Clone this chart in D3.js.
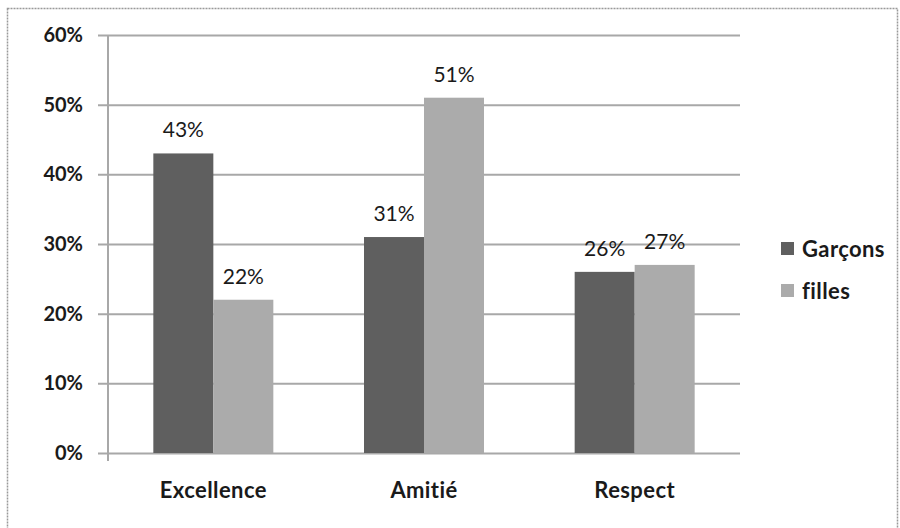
<!DOCTYPE html>
<html>
<head>
<meta charset="utf-8">
<script src="https://cdn.jsdelivr.net/npm/d3@7"></script>
<style>
  body { margin: 0; background: #fff; }
  text { font-family: Lato, "Open Sans", sans-serif; fill: #1a1a1a; }
</style>
</head>
<body>
<svg id="chart" width="900" height="528"></svg>
<script>
const categories = ['Excellence', 'Amitié', 'Respect']
const seriesNames = ['Garçons', 'filles']
const garcons = [0.43, 0.31, 0.26]
const filles = [0.22, 0.51, 0.27]
const yTicks = [0, 0.1, 0.2, 0.3, 0.4, 0.5, 0.6]
const colors = ['#5f5f5f', '#ababab']

const svg = d3.select('#chart')

// frame
svg.append('rect')
  .attr('x', 7.5).attr('y', 8.5)
  .attr('width', 890).attr('height', 530)
  .attr('fill', 'none')
  .attr('stroke', '#999')
  .attr('stroke-width', 1.5)
  .attr('stroke-dasharray', '2,1')

const plotL = 108, plotR = 740, plotT = 35, plotB = 453

const x = d3.scaleBand()
  .domain(categories)
  .range([plotL, plotR])

const inner = d3.scaleBand()
  .domain(seriesNames)
  .range([0, 120])

const y = d3.scaleLinear()
  .domain([0, 0.6])
  .range([plotB, plotT])

// gridlines + y labels
const yAxis = d3.axisLeft(y)
  .tickValues(yTicks)
  .tickFormat(d3.format('.0%'))
  .tickSize(0)
  .tickPadding(25)

const gy = svg.append('g')
  .attr('transform', `translate(${plotL},0)`)
  .call(yAxis)
gy.select('.domain').remove()
gy.selectAll('.tick line')
  .attr('x1', -10).attr('x2', plotR - plotL)
  .attr('stroke', '#a8a8a8').attr('stroke-width', 2)
gy.selectAll('.tick text')
  .style('font-size', '20px')
  .style('font-weight', 'bold')
  .style('font-family', 'Lato, sans-serif')
  .style('fill', '#1a1a1a')

// y axis line
svg.append('line')
  .attr('x1', plotL).attr('x2', plotL)
  .attr('y1', plotT).attr('y2', plotB + 8)
  .attr('stroke', '#a8a8a8').attr('stroke-width', 2)

const rows = categories.map((c, i) => ({ cat: c, vals: [garcons[i], filles[i]] }))

const groups = svg.selectAll('g.grp')
  .data(rows)
  .enter()
  .append('g')
  .attr('class', 'grp')
  .attr('transform', d => `translate(${x(d.cat) + x.bandwidth() / 2 - 60},0)`)

groups.selectAll('rect')
  .data(d => d.vals.map((v, j) => ({ v, s: seriesNames[j], j })))
  .enter()
  .append('rect')
  .attr('x', d => inner(d.s))
  .attr('y', d => y(d.v))
  .attr('width', inner.bandwidth())
  .attr('height', d => plotB - y(d.v))
  .style('fill', d => colors[d.j])

groups.selectAll('text.val')
  .data(d => d.vals.map((v, j) => ({ v, s: seriesNames[j], j })))
  .enter()
  .append('text')
  .attr('class', 'val')
  .attr('x', d => inner(d.s) + inner.bandwidth() / 2)
  .attr('y', d => y(d.v) - 16)
  .attr('text-anchor', 'middle')
  .style('font-size', '21px')
  .text(d => d3.format('.0%')(d.v))

// x axis labels
svg.selectAll('text.cat')
  .data(categories)
  .enter()
  .append('text')
  .attr('class', 'cat')
  .attr('x', d => x(d) + x.bandwidth() / 2)
  .attr('y', 498)
  .attr('text-anchor', 'middle')
  .style('font-size', '22px')
  .style('font-weight', 'bold')
  .style('letter-spacing', '0.4px')
  .text(d => d)

// legend
const lg = svg.selectAll('g.leg')
  .data(seriesNames)
  .enter()
  .append('g')
  .attr('class', 'leg')
  .attr('transform', (d, i) => `translate(781,${249 + i * 42})`)
lg.append('rect')
  .attr('x', 0).attr('y', -7)
  .attr('width', 13).attr('height', 13)
  .style('fill', (d, i) => colors[i])
lg.append('text')
  .attr('x', 21).attr('y', 7.5)
  .style('font-size', '22px')
  .style('font-weight', 'bold')
  .style('letter-spacing', '0.4px')
  .text(d => d)
</script>
</body>
</html>
